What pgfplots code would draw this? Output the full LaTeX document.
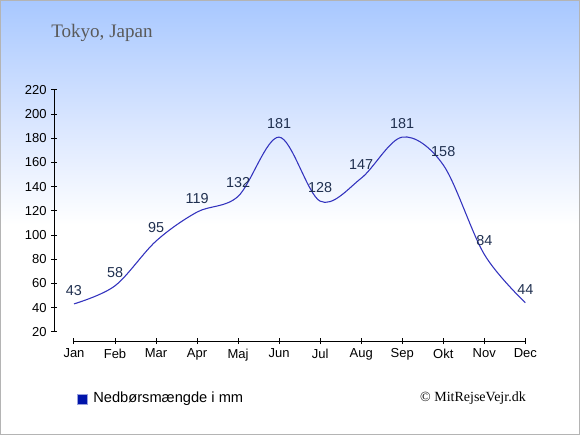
\documentclass[border=0pt]{standalone}
\usepackage{fontspec}
\setmainfont{Liberation Serif}
\setsansfont{Liberation Sans}
\usepackage{pgfplots}
\pgfplotsset{compat=1.18}
\definecolor{topblue}{RGB}{168,200,255}
\definecolor{midblue}{RGB}{216,229,255}
\definecolor{linecol}{RGB}{50,50,190}
\definecolor{labcol}{RGB}{32,48,80}
\definecolor{legblue}{RGB}{0,20,170}
\definecolor{titlegray}{RGB}{90,90,90}
\begin{document}
\begin{tikzpicture}[x=0.75pt,y=0.75pt]
\useasboundingbox (0,0) rectangle (580,435);
\fill[white] (0,0) rectangle (580,435);
\shade[top color=midblue, bottom color=white] (0,210) rectangle (580,315.5);
\shade[top color=topblue, bottom color=midblue] (0,315) rectangle (580,435);
\draw[line width=1.1pt, color={rgb,255:red,180;green,180;blue,180}] (0.5,0.5) rectangle (579.5,434.5);
\node[anchor=base west, inner sep=0, font=\fontsize{14.3pt}{16pt}\selectfont, text=titlegray] at (51,397) {Tokyo, Japan};
\begin{axis}[
  at={(40.725pt,70.5pt)}, anchor=south west,
  scale only axis, width=353.25pt, height=188.25pt,
  xmin=-0.48, xmax=11, ymin=12.3, ymax=220,
  axis lines=left,
  axis line style={draw=none,-},
  xtick={0,...,11},
  xticklabels={Jan,Feb,Mar,Apr,Maj,Jun,Jul,Aug,Sep,Okt,Nov,Dec},
  ytick={20,40,...,220},
  tick align=center,
  major tick length=4.5pt,
  tick style={black, line width=0.75pt},
  ticklabel style={font=\sffamily\fontsize{9.75pt}{11pt}\selectfont, text=black},
  /pgf/number format/assume math mode=true,
  clip=false,
  nodes near coords,
  every node near coord/.append style={anchor=center, yshift=10pt, font=\sffamily\fontsize{10.8pt}{12pt}\selectfont, text=labcol},
]
\addplot[linecol, line width=0.8pt, smooth, tension=0.55, mark=none] coordinates {
(0,43) (1,58) (2,95) (3,119) (4,132) (5,181) (6,128) (7,147) (8,181) (9,158) (10,84) (11,44)
};
\draw[black, line width=0.75pt] (axis cs:0,12.3) -- (axis cs:11,12.3);
\draw[black, line width=0.75pt] (axis cs:-0.48,20) -- (axis cs:-0.48,220);
\end{axis}
\fill[legblue] (77,31) rectangle (87,41);
\draw[legblue!40, line width=0.4pt] (77,31) rectangle (87,41);
\node[anchor=west, inner sep=0, font=\sffamily\fontsize{11pt}{13pt}\selectfont] at (93,36.5) {Nedbørsmængde i mm};
\node[anchor=east, inner sep=0, font=\fontsize{10.5pt}{12pt}\selectfont] at (526,37) {© MitRejseVejr.dk};
\end{tikzpicture}
\end{document}
